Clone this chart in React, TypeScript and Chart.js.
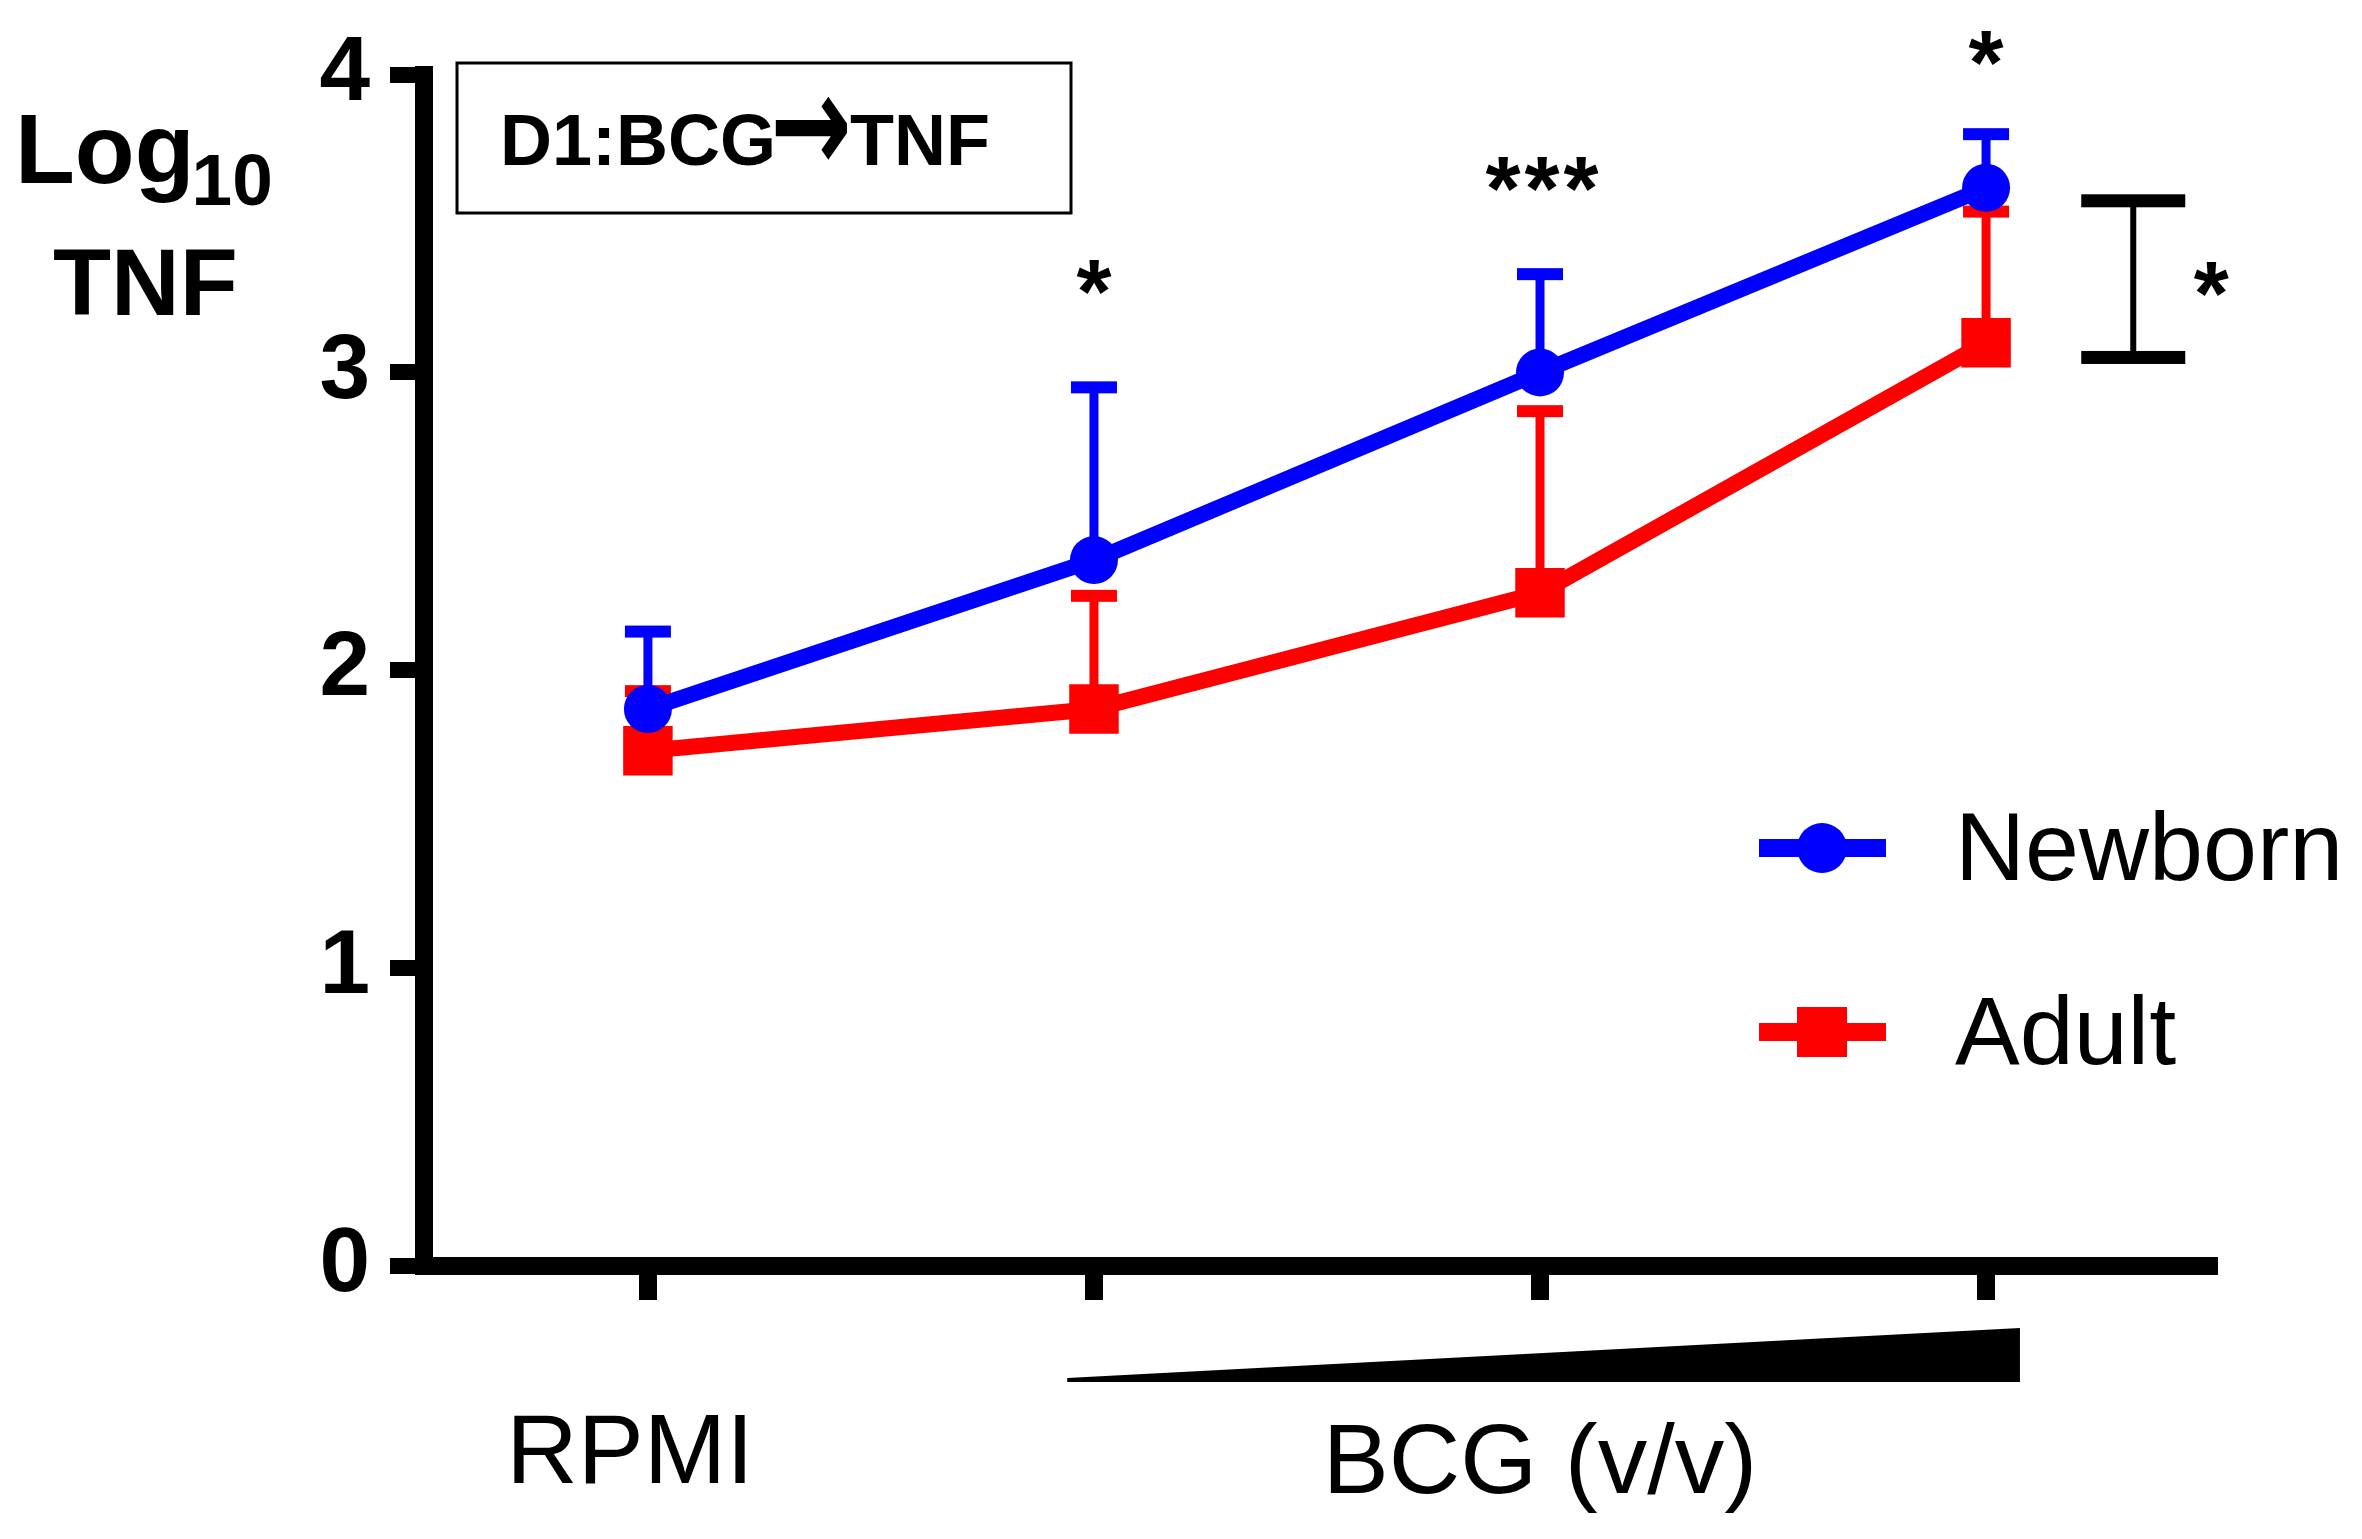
import React, { useEffect, useRef } from "react";
import { Chart, registerables } from "chart.js";

Chart.register(...registerables);

// ---- data ----
const categories = ["RPMI", "BCG low", "BCG mid", "BCG high"];
const xValues = [0, 1, 2, 3];
const newbornMean = [1.87, 2.37, 3.0, 3.62];
const newbornUpper = [2.13, 2.95, 3.33, 3.8];
const adultMean = [1.73, 1.87, 2.26, 3.1];
const adultUpper = [1.93, 2.25, 2.87, 3.54];
const yTicks = [0, 1, 2, 3, 4];

// significance marks above each dose
const starLabels = ["*", "***", "*"];
const starX = [1, 2, 3];
const starY = [3.32, 3.665, 4.09];

// overall comparison bracket
const bracketX = 3.33;
const bracketLow = 3.052;
const bracketHigh = 3.578;
const bracketStarX = 3.505;
const bracketStarY = 3.313;

const xLabels = ["RPMI", "BCG (v/v)"];
const xLabelPos = [-0.04, 2.0];
const wedgeStart = 0.94;
const wedgeEnd = 3.076;

const boxParts = ["D1:BCG", "\u2192", "TNF"];
const legendNames = ["Newborn", "Adult"];

const BLUE = "#0000FF";
const RED = "#FF0000";
const FONT = '"Liberation Sans", Arial, sans-serif';

function txt(
  ctx: CanvasRenderingContext2D,
  s: string,
  x: number,
  y: number,
  font: string,
  align: CanvasTextAlign = "left"
) {
  ctx.save();
  ctx.font = font;
  ctx.fillStyle = "#000";
  ctx.textAlign = align;
  ctx.textBaseline = "alphabetic";
  ctx.fillText(s, x, y);
  ctx.restore();
}

// draw text with its glyph bounding box centred on (cx, cy)
function txtCentered(
  ctx: CanvasRenderingContext2D,
  s: string,
  cx: number,
  cy: number,
  font: string,
  spacing = 0
) {
  ctx.save();
  ctx.font = font;
  (ctx as any).letterSpacing = spacing + "px";
  ctx.fillStyle = "#000";
  ctx.textAlign = "left";
  ctx.textBaseline = "alphabetic";
  const m = ctx.measureText(s);
  const w = m.actualBoundingBoxLeft + m.actualBoundingBoxRight - spacing;
  const h = m.actualBoundingBoxAscent + m.actualBoundingBoxDescent;
  const x = cx - w / 2 + m.actualBoundingBoxLeft;
  const y = cy - h / 2 + m.actualBoundingBoxAscent;
  ctx.fillText(s, x, y);
  ctx.restore();
}

// draw a glyph stretched so its bounding box fills (cx, cy, w, h)
function txtFit(
  ctx: CanvasRenderingContext2D,
  s: string,
  cx: number,
  cy: number,
  w: number,
  h: number,
  font: string
) {
  ctx.save();
  ctx.font = font;
  ctx.fillStyle = "#000";
  ctx.textAlign = "left";
  ctx.textBaseline = "alphabetic";
  const m = ctx.measureText(s);
  const gw = m.actualBoundingBoxLeft + m.actualBoundingBoxRight || 1;
  const gh = m.actualBoundingBoxAscent + m.actualBoundingBoxDescent || 1;
  const sx = w / gw;
  const sy = h / gh;
  ctx.translate(cx, cy);
  ctx.scale(sx, sy);
  ctx.fillText(s, -gw / 2 + m.actualBoundingBoxLeft, -gh / 2 + m.actualBoundingBoxAscent);
  ctx.restore();
}

const decorPlugin = {
  id: "decor",
  beforeDatasetsDraw(chart: any) {
    const ctx: CanvasRenderingContext2D = chart.ctx;
    const xs = chart.scales.x;
    const ys = chart.scales.y;
    const sets = [
      { mean: adultMean, up: adultUpper, color: RED },
      { mean: newbornMean, up: newbornUpper, color: BLUE },
    ];
    ctx.save();
    for (const s of sets) {
      ctx.strokeStyle = s.color;
      ctx.fillStyle = s.color;
      for (let i = 0; i < xValues.length; i++) {
        const px = xs.getPixelForValue(xValues[i]);
        const p0 = ys.getPixelForValue(s.mean[i]);
        const p1 = ys.getPixelForValue(s.up[i]);
        ctx.lineWidth = 9;
        ctx.beginPath();
        ctx.moveTo(px, p0);
        ctx.lineTo(px, p1);
        ctx.stroke();
        ctx.fillRect(px - 23, p1 - 6, 46, 12);
      }
    }
    ctx.restore();
  },
  afterDraw(chart: any) {
    const ctx: CanvasRenderingContext2D = chart.ctx;
    const xs = chart.scales.x;
    const ys = chart.scales.y;
    const area = chart.chartArea;

    // y axis title
    ctx.save();
    ctx.font = `bold 98px ${FONT}`;
    const logW = ctx.measureText("Log").width;
    ctx.restore();
    txt(ctx, "Log", 15, 183, `bold 98px ${FONT}`);
    txt(ctx, "10", 15 + logW - 3, 205, `bold 73px ${FONT}`);
    txt(ctx, "TNF", 53, 315, `bold 95px ${FONT}`);

    // title box
    ctx.save();
    ctx.strokeStyle = "#000";
    ctx.lineWidth = 3;
    ctx.strokeRect(457, 63, 614, 150);
    ctx.restore();
    txt(ctx, boxParts[0], 500, 165, `bold 72px ${FONT}`);
    txtFit(ctx, boxParts[1], 811, 129, 72, 64, `bold 100px "DejaVu Sans", sans-serif`);
    txt(ctx, boxParts[2], 850, 165, `bold 72px ${FONT}`);

    // stars
    for (let i = 0; i < starLabels.length; i++) {
      txtCentered(
        ctx,
        starLabels[i],
        xs.getPixelForValue(starX[i]),
        ys.getPixelForValue(starY[i]),
        `bold 90px ${FONT}`,
        starLabels[i].length > 1 ? 4 : 0
      );
    }

    // bracket
    const bx = xs.getPixelForValue(bracketX);
    const bl = ys.getPixelForValue(bracketLow);
    const bh = ys.getPixelForValue(bracketHigh);
    ctx.save();
    ctx.fillStyle = "#000";
    ctx.fillRect(bx - 3, bh, 6, bl - bh);
    ctx.fillRect(bx - 52, bh - 6, 104, 13);
    ctx.fillRect(bx - 52, bl - 6, 104, 13);
    ctx.restore();
    txtCentered(
      ctx,
      "*",
      xs.getPixelForValue(bracketStarX),
      ys.getPixelForValue(bracketStarY),
      `bold 90px ${FONT}`
    );

    // legend
    const legendY = [848, 1032];
    const colors = [BLUE, RED];
    for (let i = 0; i < 2; i++) {
      const y = legendY[i];
      ctx.save();
      ctx.strokeStyle = colors[i];
      ctx.fillStyle = colors[i];
      ctx.lineWidth = 18;
      ctx.beginPath();
      ctx.moveTo(1759, y);
      ctx.lineTo(1886, y);
      ctx.stroke();
      if (i === 0) {
        ctx.beginPath();
        ctx.arc(1822, y, 25, 0, Math.PI * 2);
        ctx.fill();
      } else {
        ctx.fillRect(1797, y - 25, 50, 50);
      }
      ctx.restore();
      txt(ctx, legendNames[i], 1955, y + 32, `97px ${FONT}`);
    }

    // wedge for increasing BCG
    const w0 = xs.getPixelForValue(wedgeStart);
    const w1 = xs.getPixelForValue(wedgeEnd);
    const bottom = area.bottom + 112;
    ctx.save();
    ctx.fillStyle = "#000";
    ctx.beginPath();
    ctx.moveTo(w0, bottom);
    ctx.lineTo(w1, area.bottom + 62);
    ctx.lineTo(w1, bottom + 4);
    ctx.lineTo(w0, bottom + 4);
    ctx.closePath();
    ctx.fill();
    ctx.restore();

    // x labels
    txt(ctx, xLabels[0], xs.getPixelForValue(xLabelPos[0]), 1483, `99px ${FONT}`, "center");
    txt(ctx, xLabels[1], xs.getPixelForValue(xLabelPos[1]), 1493, `99px ${FONT}`, "center");
  },
};

export default function App() {
  const ref = useRef<HTMLCanvasElement | null>(null);

  useEffect(() => {
    document.body.style.margin = "0";
    const canvas = ref.current;
    if (!canvas) return;
    const chart = new Chart(canvas, {
      type: "line",
      data: {
        labels: categories,
        datasets: [
          {
            label: legendNames[0],
            data: xValues.map((x, i) => ({ x, y: newbornMean[i] })),
            borderColor: BLUE,
            backgroundColor: BLUE,
            borderWidth: 16,
            pointStyle: "circle",
            pointRadius: 24,
            pointBorderWidth: 0,
            pointHoverRadius: 24,
            tension: 0,
          },
          {
            label: legendNames[1],
            data: xValues.map((x, i) => ({ x, y: adultMean[i] })),
            borderColor: RED,
            backgroundColor: RED,
            borderWidth: 16,
            pointStyle: "rect",
            pointRadius: 35,
            pointBorderWidth: 0,
            pointHoverRadius: 35,
            tension: 0,
          },
        ],
      },
      options: {
        responsive: false,
        animation: false,
        devicePixelRatio: 1,
        events: [],
        layout: { padding: { left: 0, top: 72, right: 144, bottom: 0 } },
        plugins: {
          legend: { display: false },
          tooltip: { enabled: false },
          title: { display: false },
        },
        scales: {
          x: {
            type: "linear",
            min: -0.502,
            max: 3.52,
            afterBuildTicks: (scale: any) => {
              scale.ticks = xValues.map((v) => ({ value: v }));
            },
            afterFit: (scale: any) => {
              scale.height = 273;
            },
            ticks: { display: false },
            grid: {
              display: true,
              drawOnChartArea: false,
              drawTicks: true,
              tickLength: 34,
              tickWidth: 18,
              tickColor: "#000",
              lineWidth: 0,
            },
            border: { display: true, width: 18, color: "#000" },
          },
          y: {
            type: "linear",
            min: 0,
            max: 4,
            afterBuildTicks: (scale: any) => {
              scale.ticks = yTicks.map((v) => ({ value: v }));
            },
            afterFit: (scale: any) => {
              scale.width = 424;
            },
            ticks: {
              color: "#000",
              padding: 20,
              font: { family: FONT, size: 91, weight: "bold" },
              callback: (v: any) => String(v),
            },
            grid: {
              display: true,
              drawOnChartArea: false,
              drawTicks: true,
              tickLength: 34,
              tickWidth: 16,
              tickColor: "#000",
              lineWidth: 0,
            },
            border: { display: true, width: 18, color: "#000" },
          },
        },
      },
      plugins: [decorPlugin],
    });
    return () => chart.destroy();
  }, []);

  return (
    <div style={{ position: "absolute", left: 0, top: 0, width: 2362, height: 1539, background: "#fff" }}>
      <canvas ref={ref} width={2362} height={1539} style={{ width: 2362, height: 1539, display: "block" }} />
    </div>
  );
}
